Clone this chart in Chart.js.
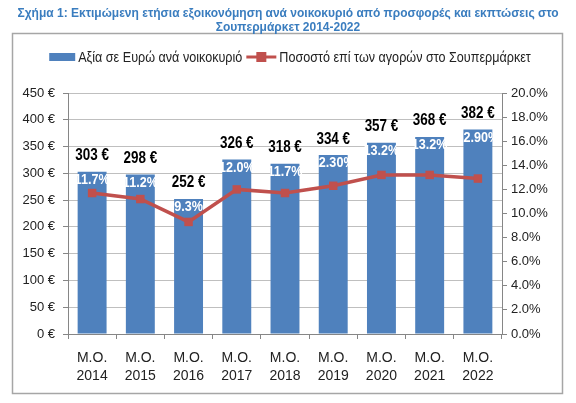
<!DOCTYPE html>
<html>
<head>
<meta charset="utf-8">
<script src="https://cdn.jsdelivr.net/npm/chart.js@4/dist/chart.umd.min.js"></script>
<style>
  html, body { margin: 0; padding: 0; background: #fff; }
  #wrap { width: 576px; height: 403px; position: relative; }
</style>
</head>
<body>
<div id="wrap"><canvas id="chart"></canvas></div>
<script>
// data
var years = ['2014', '2015', '2016', '2017', '2018', '2019', '2020', '2021', '2022'];
var euroPerHousehold = [303, 298, 252, 326, 318, 334, 357, 368, 382];
var shareOfPurchases = [11.7, 11.2, 9.3, 12.0, 11.7, 12.3, 13.2, 13.2, 12.9];
var shareLabels = ['11.7%', '11.2%', '9.3%', '12.0%', '11.7%', '12.30%', '13.2%', '13.2%', '12.90%'];

var titleLines = [
    'Σχήμα 1: Εκτιμώμενη ετήσια εξοικονόμηση ανά νοικοκυριό από προσφορές και εκπτώσεις στο',
    'Σουπερμάρκετ 2014-2022'
];
var barName = 'Αξία σε Ευρώ ανά νοικοκυριό';
var lineName = 'Ποσοστό επί των αγορών στο Σουπερμάρκετ';

var SANS = "'Liberation Sans', Arial, sans-serif";
var SQUEEZE = 0.84; // the original text is set in a narrow face
var BLUE = '#4F81BD';
var RED = '#C0504D';

var labels = years.map(function (y) { return ['M.O.', y]; });

// narrow text: squeeze horizontally around its anchor
function narrowText(ctx, text, x, y) {
    ctx.save();
    ctx.translate(x, y);
    ctx.scale(SQUEEZE, 1);
    ctx.fillText(text, 0, 0);
    ctx.restore();
}

// frame, title, legend and value labels drawn by hand
var framePlugin = {
    id: 'frame',
    beforeDraw: function (chart) {
        var ctx = chart.ctx;
        ctx.save();
        ctx.fillStyle = '#fff';
        ctx.fillRect(0, 0, chart.width, chart.height);
        ctx.strokeStyle = '#A6A6A6';
        ctx.lineWidth = 1.5;
        ctx.strokeRect(12.5, 33.5, 550, 360);

        ctx.fillStyle = '#3A7DBF';
        ctx.font = 'bold 12px ' + SANS;
        ctx.textAlign = 'center';
        ctx.textBaseline = 'middle';
        ctx.fillText(titleLines[0], 288, 14);
        ctx.fillText(titleLines[1], 288, 28);

        // legend
        ctx.font = '15px ' + SANS;
        ctx.textAlign = 'left';
        var w1 = ctx.measureText(barName).width * SQUEEZE;
        var w2 = ctx.measureText(lineName).width * SQUEEZE;
        var total = 26 + 3 + w1 + 4 + 30 + 3 + w2;
        var x = 290 - total / 2;
        var y = 57;
        ctx.fillStyle = BLUE;
        ctx.fillRect(x, y - 4, 26, 8);
        x += 29;
        ctx.fillStyle = '#222';
        narrowText(ctx, barName, x, y + 1);
        x += w1 + 4;
        ctx.strokeStyle = RED;
        ctx.lineWidth = 3;
        ctx.beginPath();
        ctx.moveTo(x, y);
        ctx.lineTo(x + 30, y);
        ctx.stroke();
        ctx.fillStyle = RED;
        ctx.fillRect(x + 10, y - 5, 10, 10);
        x += 33;
        ctx.fillStyle = '#222';
        narrowText(ctx, lineName, x, y + 1);
        ctx.restore();
    },
    afterDatasetsDraw: function (chart) {
        var ctx = chart.ctx;
        var bars = chart.getDatasetMeta(1).data;
        ctx.save();
        ctx.textAlign = 'center';
        ctx.textBaseline = 'middle';
        bars.forEach(function (bar, i) {
            ctx.fillStyle = '#000';
            ctx.font = 'bold 16px ' + SANS;
            narrowText(ctx, euroPerHousehold[i] + ' €', bar.x, bar.y - 16);
            ctx.fillStyle = '#fff';
            ctx.font = 'bold 15px ' + SANS;
            narrowText(ctx, shareLabels[i], bar.x, bar.y + 8);
        });
        ctx.restore();
    }
};

new Chart(document.getElementById('chart').getContext('2d'), {
    type: 'bar',
    data: {
        labels: labels,
        datasets: [{
            type: 'line',
            label: lineName,
            data: shareOfPurchases,
            yAxisID: 'y1',
            borderColor: RED,
            backgroundColor: RED,
            borderWidth: 3.5,
            pointStyle: 'rect',
            pointRadius: 6,
            pointBorderWidth: 0,
            tension: 0,
            order: 0
        }, {
            label: barName,
            data: euroPerHousehold,
            yAxisID: 'y',
            backgroundColor: BLUE,
            categoryPercentage: 1,
            barPercentage: 0.6,
            order: 1
        }]
    },
    options: {
        responsive: true,
        maintainAspectRatio: false,
        animation: false,
        layout: { padding: { top: 93, left: 0, right: 0, bottom: 0 } },
        plugins: {
            legend: { display: false },
            title: { display: false },
            tooltip: { enabled: false }
        },
        scales: {
            x: {
                offset: true,
                grid: { offset: true, drawOnChartArea: false, drawTicks: true, tickLength: 5, color: '#868686' },
                border: { color: '#868686' },
                ticks: { color: '#222', font: { family: SANS, size: 14, lineHeight: 1.3 }, padding: 10, maxRotation: 0 },
                afterFit: function (s) { s.height = 69; }
            },
            y: {
                position: 'left',
                min: 0,
                max: 450,
                ticks: {
                    stepSize: 50,
                    color: '#222',
                    font: { family: SANS, size: 13 },
                    padding: 8,
                    callback: function (v) { return v + ' €'; }
                },
                grid: { color: '#BFBFBF', tickLength: 5, tickColor: '#868686' },
                border: { color: '#868686' },
                afterFit: function (s) { s.width = 68; }
            },
            y1: {
                position: 'right',
                min: 0,
                max: 20,
                ticks: {
                    stepSize: 2,
                    color: '#222',
                    font: { family: SANS, size: 13 },
                    padding: 4,
                    callback: function (v) { return v.toFixed(1) + '%'; }
                },
                grid: { drawOnChartArea: false, tickLength: 5, color: '#868686' },
                border: { color: '#868686' },
                afterFit: function (s) { s.width = 74; }
            }
        }
    },
    plugins: [framePlugin]
});
</script>
</body>
</html>
